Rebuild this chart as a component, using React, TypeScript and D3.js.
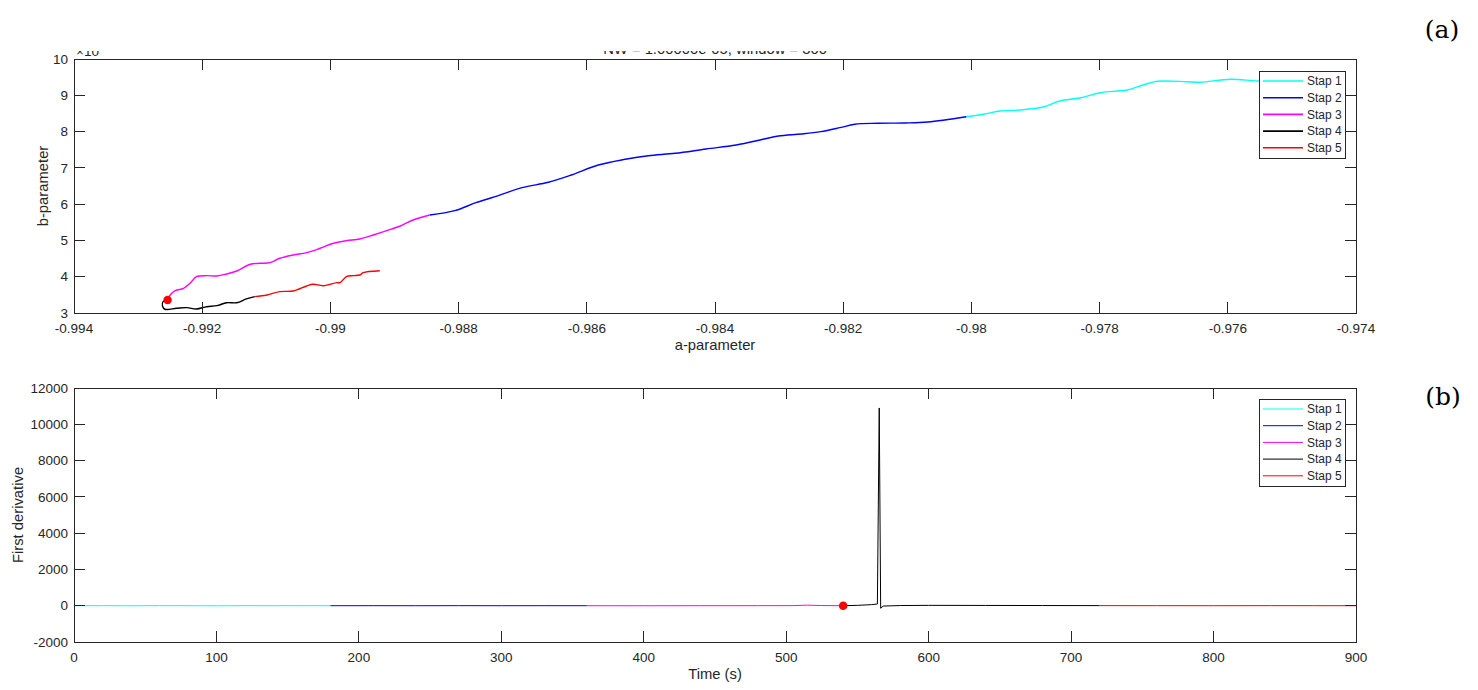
import * as d3 from "d3";
import React from "react";

// stage names and colours (MATLAB defaults c, b, m, k, r)
const stages = ["Stap 1", "Stap 2", "Stap 3", "Stap 4", "Stap 5"];
const stageColors = ["#00ffff", "#0000ff", "#ff00ff", "#000000", "#ff0000"];

// (a) a-parameter vs b-parameter
const aStap1 = [-0.97503, -0.97553, -0.97596, -0.97643, -0.97664, -0.9771, -0.97732, -0.97757, -0.97799, -0.97831, -0.97862, -0.97888, -0.97924, -0.97955, -0.97979, -0.98008];
const bStap1 = [9.394, 9.394, 9.441, 9.358, 9.374, 9.386, 9.284, 9.146, 9.071, 8.925, 8.843, 8.677, 8.595, 8.567, 8.484, 8.41];
const aStap2 = [-0.98008, -0.98068, -0.98104, -0.98146, -0.98182, -0.98205, -0.98235, -0.98265, -0.98301, -0.98325, -0.98367, -0.98414, -0.98462, -0.98504, -0.9854, -0.98582, -0.98624, -0.9866, -0.98701, -0.98743, -0.98773, -0.98806, -0.98845];
const bStap2 = [8.41, 8.264, 8.236, 8.228, 8.201, 8.107, 7.997, 7.933, 7.878, 7.787, 7.63, 7.52, 7.401, 7.335, 7.236, 7.079, 6.804, 6.602, 6.454, 6.206, 6.04, 5.82, 5.701];
const aStap3 = [-0.98845, -0.98871, -0.98891, -0.98912, -0.98933, -0.98954, -0.98975, -0.98995, -0.99016, -0.99037, -0.99058, -0.99079, -0.99094, -0.9911, -0.99125, -0.99146, -0.99162, -0.99177, -0.99193, -0.99209, -0.99219, -0.99229, -0.99242, -0.9925, -0.99254];
const bStap3 = [5.701, 5.563, 5.398, 5.269, 5.15, 5.04, 4.993, 4.921, 4.784, 4.662, 4.599, 4.508, 4.387, 4.37, 4.343, 4.158, 4.075, 4.02, 4.029, 4.001, 3.819, 3.681, 3.615, 3.497, 3.359];
const aStap4 = [-0.99254, -0.99261, -0.99262, -0.99258, -0.9924, -0.99224, -0.99209, -0.99193, -0.99177, -0.99162, -0.99146, -0.99131, -0.99118];
const bStap4 = [3.359, 3.312, 3.194, 3.103, 3.13, 3.147, 3.111, 3.174, 3.202, 3.284, 3.284, 3.387, 3.45];
const aStap5 = [-0.99118, -0.99099, -0.99079, -0.99058, -0.99037, -0.99027, -0.99011, -0.9899, -0.98985, -0.98975, -0.98964, -0.98954, -0.98949, -0.98923];
const bStap5 = [3.45, 3.497, 3.588, 3.607, 3.745, 3.792, 3.753, 3.836, 3.836, 4.001, 4.029, 4.048, 4.111, 4.166];
const markerA = -0.99254;
const markerB = 3.359;

// (b) first derivative over time
const tStap1 = [0, 20, 40, 60, 80, 100, 120, 140, 160, 180];
const dStap1 = [0, 3, -2, 4, 1, -3, 2, 0, 3, 0];
const tStap2 = [180, 210, 240, 270, 300, 330, 360];
const dStap2 = [0, 2, -1, 3, 0, 2, 0];
const tStap3 = [360, 400, 440, 480, 505, 515, 525, 540];
const dStap3 = [0, -2, 1, 3, 5, 30, 10, 0];
const tStap4 = [540, 550, 560, 564, 565.3, 566.3, 568, 580, 600, 640, 680, 720];
const dStap4 = [0, 20, 60, 94, 10900, -140, -20, 10, 20, 15, 10, 5];
const tStap5 = [720, 760, 800, 840, 870, 900];
const dStap5 = [5, 3, 0, 4, 2, 0];
const markerT = 540;
const markerD = 0;

const aTicks = d3.range(0, 11).map((i) => -0.994 + i * 0.002);
const bTicks = [3, 4, 5, 6, 7, 8, 9, 10];
const tTicks = [0, 100, 200, 300, 400, 500, 600, 700, 800, 900];
const dTicks = [-2000, 0, 2000, 4000, 6000, 8000, 10000, 12000];

const W = 1478;
const H = 690;
const left = 74;
const right = 1356;
const axisColor = "#262626";
const sans = "'Liberation Sans', Arial, sans-serif";
const tickLen = 11;

interface AxesProps {
  x: d3.ScaleLinear<number, number>;
  y: d3.ScaleLinear<number, number>;
  xTicks: number[];
  yTicks: number[];
  xFmt: (v: number) => string;
  xLabel: string;
  yLabel: string;
  yLabelX: number;
}

const Axes: React.FC<AxesProps> = ({ x, y, xTicks, yTicks, xFmt, xLabel, yLabel, yLabelX }) => {
  const [x0, x1] = x.range();
  const [y0, y1] = y.range(); // y0 bottom, y1 top
  return (
    <g fontFamily={sans} fill={axisColor}>
      <rect x={x0} y={y1} width={x1 - x0} height={y0 - y1} fill="none" stroke={axisColor} strokeWidth={1} shapeRendering="crispEdges" />
      {xTicks.map((t) => (
        <g key={"x" + t}>
          <line x1={x(t)} x2={x(t)} y1={y0} y2={y0 - tickLen} stroke={axisColor} shapeRendering="crispEdges" />
          <line x1={x(t)} x2={x(t)} y1={y1} y2={y1 + tickLen} stroke={axisColor} shapeRendering="crispEdges" />
          <text x={x(t)} y={y0 + 20} textAnchor="middle" fontSize={13.5}>{xFmt(t)}</text>
        </g>
      ))}
      {yTicks.map((t) => (
        <g key={"y" + t}>
          <line x1={x0} x2={x0 + tickLen} y1={y(t)} y2={y(t)} stroke={axisColor} shapeRendering="crispEdges" />
          <line x1={x1} x2={x1 - tickLen} y1={y(t)} y2={y(t)} stroke={axisColor} shapeRendering="crispEdges" />
          <text x={x0 - 6} y={y(t)} dy="0.35em" textAnchor="end" fontSize={13.5}>{String(t)}</text>
        </g>
      ))}
      <text x={(x0 + x1) / 2} y={y0 + 37} textAnchor="middle" fontSize={14.8}>{xLabel}</text>
      <text transform={`translate(${yLabelX},${(y0 + y1) / 2}) rotate(-90)`} textAnchor="middle" fontSize={14.8}>{yLabel}</text>
    </g>
  );
};

const Legend: React.FC<{ x: number; y: number; lineWidth: number }> = ({ x, y, lineWidth }) => (
  <g fontFamily={sans}>
    <rect x={x} y={y} width={86} height={87} fill="#fff" stroke={axisColor} strokeWidth={1} shapeRendering="crispEdges" />
    {stages.map((s, i) => {
      const cy = y + 10 + i * 16.7;
      return (
        <g key={s}>
          <line x1={x + 4} x2={x + 44} y1={cy} y2={cy} stroke={stageColors[i]} strokeWidth={lineWidth} />
          <text x={x + 48} y={cy} dy="0.35em" fontSize={12} fill={axisColor}>{s}</text>
        </g>
      );
    })}
  </g>
);

export default function App() {
  // panel (a)
  const xa = d3.scaleLinear().domain([-0.994, -0.974]).range([left, right]);
  const ya = d3.scaleLinear().domain([3, 10]).range([313, 59]);
  // panel (b)
  const xb = d3.scaleLinear().domain([0, 900]).range([left, right]);
  const yb = d3.scaleLinear().domain([-2000, 12000]).range([642, 388]);

  const aSeries = [
    [aStap1, bStap1], [aStap2, bStap2], [aStap3, bStap3], [aStap4, bStap4], [aStap5, bStap5],
  ];
  const bSeries = [
    [tStap1, dStap1], [tStap2, dStap2], [tStap3, dStap3], [tStap4, dStap4], [tStap5, dStap5],
  ];

  const lineA = d3.line<[number, number]>()
    .x((d) => xa(d[0]))
    .y((d) => ya(d[1]))
    .curve(d3.curveCatmullRom.alpha(0.5));
  const lineB = d3.line<[number, number]>()
    .x((d) => xb(d[0]))
    .y((d) => yb(d[1]));

  return (
    <svg width={W} height={H} style={{ position: "absolute", left: 0, top: 0, background: "#fff" }}>
      <defs>
        <clipPath id="fig">
          <rect x={0} y={51} width={W} height={H - 51} />
        </clipPath>
        <clipPath id="plotA">
          <rect x={left} y={59} width={right - left} height={313 - 59} />
        </clipPath>
        <clipPath id="plotB">
          <rect x={left} y={388} width={right - left} height={642 - 388} />
        </clipPath>
      </defs>

      <g clipPath="url(#fig)">
        {/* cropped title and exponent of panel (a) */}
        <text x={(left + right) / 2} y={54} textAnchor="middle" fontFamily={sans} fontSize={14.8} fill={axisColor}>
          NW = 1.00000e-05, window = 300
        </text>
        <text x={76} y={56} fontFamily={sans} fontSize={13.5} fill={axisColor}>
          ×10<tspan dy={-6} fontSize={10}>-5</tspan>
        </text>

        <g clipPath="url(#plotA)" fill="none">
          {aSeries.map(([xs, ys], i) => (
            <path key={i} d={lineA(xs.map((v, j) => [v, ys[j]] as [number, number])) || ""} stroke={stageColors[i]} strokeWidth={1.4} />
          ))}
          <circle cx={xa(markerA)} cy={ya(markerB)} r={4.2} fill="#ff0000" />
        </g>
        <Axes x={xa} y={ya} xTicks={aTicks} yTicks={bTicks} xFmt={(v) => String(+v.toFixed(3))}
          xLabel="a-parameter" yLabel="b-parameter" yLabelX={48} />
        <Legend x={1259} y={71} lineWidth={1.6} />

        <g clipPath="url(#plotB)" fill="none">
          {bSeries.map(([xs, ys], i) => (
            <path key={i} d={lineB(xs.map((v, j) => [v, ys[j]] as [number, number])) || ""} stroke={stageColors[i]} strokeWidth={1} />
          ))}
          <circle cx={xb(markerT)} cy={yb(markerD)} r={4.3} fill="#ff0000" />
        </g>
        <Axes x={xb} y={yb} xTicks={tTicks} yTicks={dTicks} xFmt={(v) => String(v)}
          xLabel="Time (s)" yLabel="First derivative" yLabelX={23} />
        <Legend x={1259} y={399} lineWidth={1} />
      </g>

      <text x={1442} y={38} textAnchor="middle" fontFamily="'DejaVu Serif', serif" fontSize={25} fill="#000">(a)</text>
      <text x={1443} y={405} textAnchor="middle" fontFamily="'DejaVu Serif', serif" fontSize={25} fill="#000">(b)</text>
    </svg>
  );
}
